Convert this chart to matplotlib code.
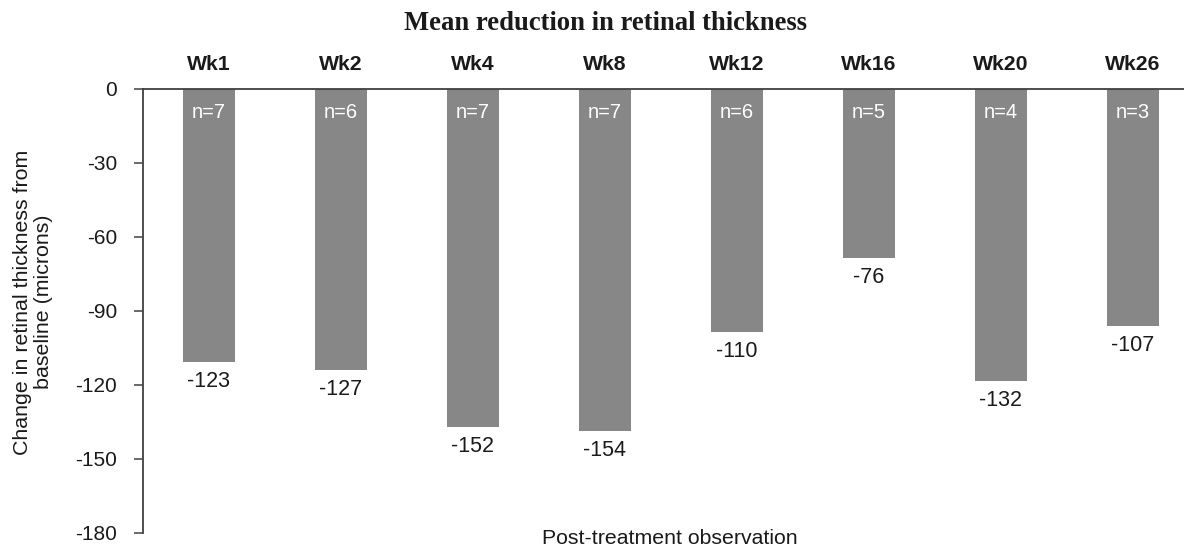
import matplotlib
matplotlib.use("Agg")
import matplotlib.pyplot as plt

# Data
weeks = ["Wk1", "Wk2", "Wk4", "Wk8", "Wk12", "Wk16", "Wk20", "Wk26"]
bar_values = [-110.5, -114, -137, -138.5, -98.5, -68.5, -118.5, -96]   # bar ends as drawn
value_labels = ["-123", "-127", "-152", "-154", "-110", "-76", "-132", "-107"]
n_labels = ["n=7", "n=6", "n=7", "n=7", "n=6", "n=5", "n=4", "n=3"]
yticks = [0, -30, -60, -90, -120, -150, -180]

plt.rcParams['font.family'] = ['Liberation Sans', 'DejaVu Sans']
PX = 0.72  # points per pixel at dpi 100

W, H = 1184, 546
fig = plt.figure(figsize=(W / 100, H / 100), dpi=100)
left, top, bottom = 143, 89, 533
spacing = 132
ax = fig.add_axes([left / W, 1 - bottom / H, 8 * spacing / W, (bottom - top) / H])

x = list(range(len(weeks)))
ax.bar(x, bar_values, width=0.40, color='#878787', edgecolor='none', zorder=2)
ax.set_xlim(-0.5, 7.5)
ax.set_ylim(-180, 0)

axis_color = '#404040'
for s in ['right', 'bottom']:
    ax.spines[s].set_visible(False)
for s in ['top', 'left']:
    ax.spines[s].set_color(axis_color)
    ax.spines[s].set_linewidth(1.3)
    ax.spines[s].set_zorder(3)

ax.set_xticks([])
ax.set_yticks(yticks)
ax.set_yticklabels([str(t) for t in yticks])
ax.tick_params(axis='y', direction='out', length=9 * PX, width=1.1, color=axis_color,
               pad=17 * PX, labelsize=15, labelcolor='#1a1a1a')

for i in x:
    ax.annotate(weeks[i], xy=(i, 0), xytext=(0, 19 * PX), textcoords='offset points',
                ha='center', va='baseline', fontsize=15.3, fontweight='bold',
                color='#1a1a1a', annotation_clip=False)
    ax.annotate(n_labels[i], xy=(i, 0), xytext=(0, -29 * PX), textcoords='offset points',
                ha='center', va='baseline', fontsize=14.5, color='white', zorder=4)
    ax.annotate(value_labels[i], xy=(i, bar_values[i]), xytext=(0, -25 * PX),
                textcoords='offset points', ha='center', va='baseline',
                fontsize=15.5, color='#1a1a1a')

fig.text(606 / W, 1 - 30 / H, "Mean reduction in retinal thickness",
         ha='center', va='baseline', fontsize=19.2, fontweight='bold',
         family=['Liberation Serif', 'DejaVu Serif'], color='#1a1a1a')

fig.text(33 / W, 1 - 302 / H, "Change in retinal thickness from\nbaseline (microns)",
         ha='center', va='center', rotation=90, multialignment='center',
         fontsize=15.4, color='#1a1a1a', linespacing=1.15)

fig.text(670 / W, 1 - 538 / H, "Post-treatment observation",
         ha='center', va='center', fontsize=15.3, color='#1a1a1a')

fig.savefig("out.png", dpi=100)
